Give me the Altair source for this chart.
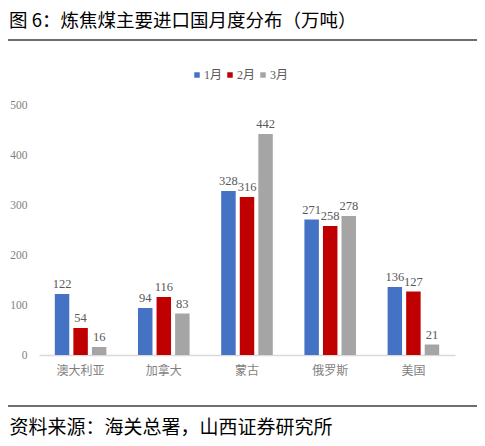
import altair as alt
import pandas as pd

countries = ["澳大利亚", "加拿大", "蒙古", "俄罗斯", "美国"]
months = ["1月", "2月", "3月"]
jan = [122, 94, 328, 271, 136]
feb = [54, 116, 316, 258, 127]
mar = [16, 83, 442, 278, 21]
colors = ["#4472C4", "#C00000", "#A5A5A5"]
title_text = "图 6：炼焦煤主要进口国月度分布（万吨）"
source_text = "资料来源：海关总署，山西证券研究所"

rows = []
for i, c in enumerate(countries):
    for m, series in zip(months, [jan, feb, mar]):
        rows.append({"country": c, "month": m, "value": series[i]})
df = pd.DataFrame(rows)

serif = "Liberation Serif, Noto Sans CJK SC"
label_color = "#595959"

x_enc = alt.X("country:N", sort=countries,
              scale=alt.Scale(paddingInner=0.38, paddingOuter=0.19),
              axis=alt.Axis(title=source_text, labelAngle=0, labelFont=serif,
                            labelFontSize=12, labelColor="#7f7f7f", labelPadding=10,
                            ticks=False, domainColor="#d9d9d9", domainWidth=1.5,
                            titleX=-30, titleY=72, titleAnchor="start", titleAlign="left",
                            titleBaseline="middle", titleFont="Noto Sans CJK SC",
                            titleFontSize=19, titleFontWeight="normal", titleColor="#000000"))
y_enc = alt.Y("value:Q", scale=alt.Scale(domain=[0, 500], nice=False),
              axis=alt.Axis(title=None, values=list(range(0, 501, 50)), grid=False,
                            domain=False, ticks=False, labelFont=serif, labelFontSize=11.5,
                            labelColor="#7f7f7f", labelPadding=12))
xo = alt.XOffset("month:N", sort=months, scale=alt.Scale(paddingInner=0.22, paddingOuter=0))
color_enc = alt.Color("month:N", sort=months,
                      scale=alt.Scale(domain=months, range=colors),
                      legend=alt.Legend(title=None, orient="none", direction="horizontal",
                                        legendX=152, legendY=-36, symbolType="square",
                                        symbolSize=30, symbolStrokeWidth=0,
                                        labelFont=serif, labelFontSize=12,
                                        labelColor=label_color, columnPadding=1,
                                        labelOffset=1))

bars = alt.Chart(df).mark_bar().encode(x=x_enc, y=y_enc, xOffset=xo, color=color_enc)
labels = alt.Chart(df).mark_text(dy=-10, font=serif, fontSize=12.5, color=label_color).encode(
    x=alt.X("country:N", sort=countries), y="value:Q", xOffset=xo, text="value:Q")

top_line = alt.Chart(df).mark_rule(color="#6e6e6e", strokeWidth=1.8).encode(
    x=alt.value(-31), x2=alt.value(438), y=alt.value(-65))
bottom_line = alt.Chart(df).mark_rule(color="#6e6e6e", strokeWidth=1.8).encode(
    x=alt.value(-31), x2=alt.value(438), y=alt.value(301))

chart = alt.layer(bars, labels, top_line, bottom_line).properties(
    width=416, height=250,
    padding={"left": 31, "top": 97, "right": 22, "bottom": 83},
    autosize=alt.AutoSizeParams(type="none"),
    title=alt.TitleParams(title_text, anchor="start", frame="group", dx=-30, offset=9,
                          font="Noto Sans CJK SC", fontSize=18.5, fontWeight="normal",
                          color="#000000"),
).configure_view(stroke=None)

chart.save("out.html", embed_options={"renderer": "svg", "actions": False})
